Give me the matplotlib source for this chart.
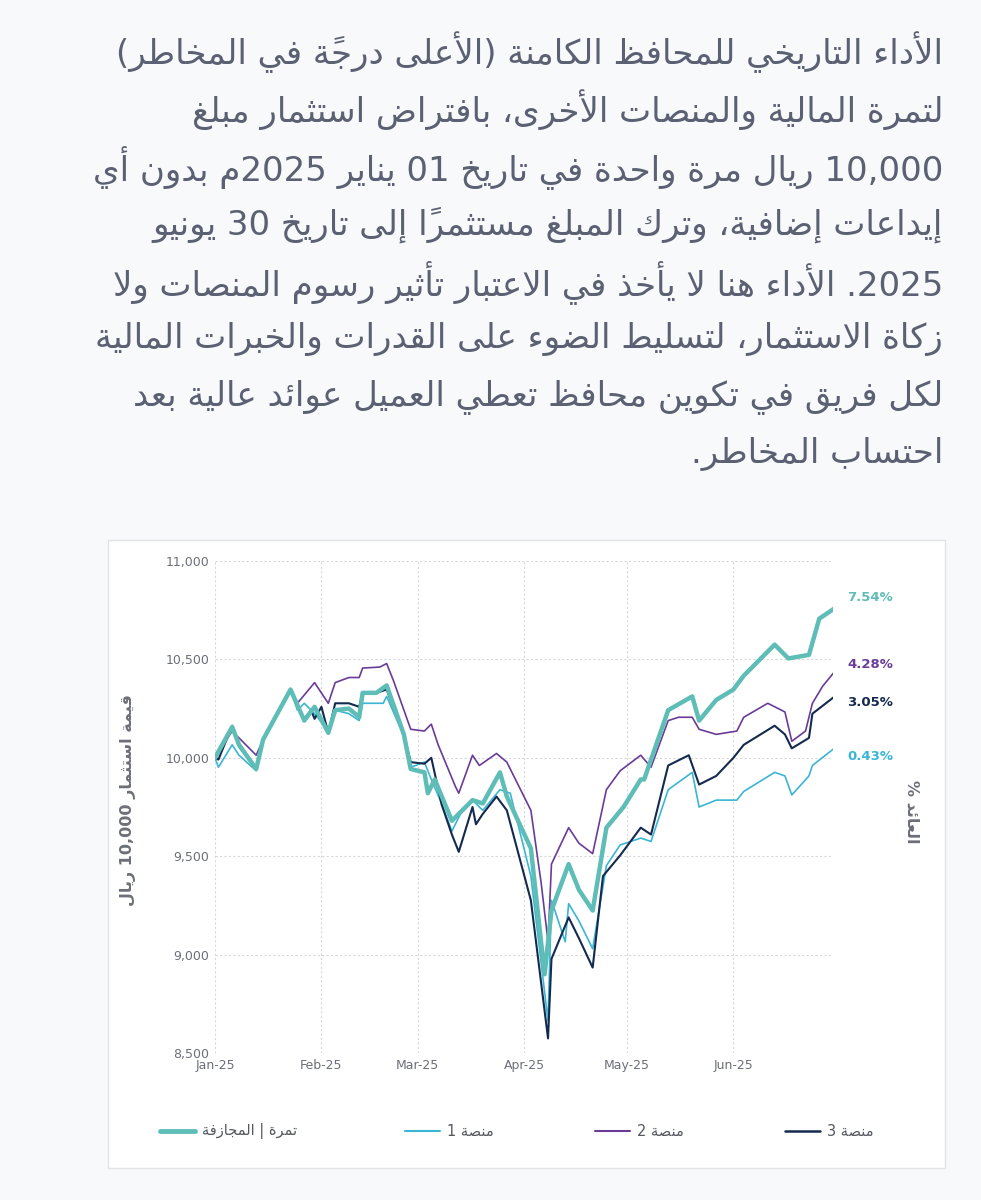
import re
import numpy as np
import matplotlib
matplotlib.use("Agg")
import matplotlib.pyplot as plt
import matplotlib.dates as mdates
from matplotlib.patches import Rectangle
from matplotlib.lines import Line2D

# ==========================================
# Data (day offsets from 2025-01-01)
# ==========================================
tamra_days = [0, 5, 7, 12, 14, 22, 26, 29, 33, 35, 39, 42, 43, 47, 50, 55, 57, 61, 62, 64, 69, 71, 75, 78, 83,
              85, 92, 96, 98, 103, 106, 110, 114, 119, 124, 125, 132, 139, 141, 146, 151, 154, 163, 167, 173, 176, 180]
tamra_vals = [10000, 10157, 10066, 9943, 10092, 10347, 10189, 10259, 10127, 10242, 10250, 10207, 10330, 10330, 10368,
              10119, 9943, 9926, 9820, 9890, 9680, 9715, 9785, 9768, 9926, 9803, 9540, 8900, 9224, 9460,
              9329, 9224, 9645, 9750, 9890, 9890, 10242, 10312, 10189, 10294, 10347, 10417, 10575, 10505, 10523,
              10707, 10754]

p1_days = [0, 1, 5, 7, 12, 14, 22, 24, 26, 29, 33, 35, 39, 42, 43, 49, 50, 55, 57, 61, 63, 66, 69, 72, 75,
           78, 83, 86, 92, 97, 98, 102, 103, 106, 110, 114, 118, 124, 127, 132, 139, 141, 146, 152, 154,
           163, 166, 168, 173, 174, 180]
p1_vals = [10000, 9952, 10066, 10013, 9934, 10092, 10347, 10242, 10277, 10224, 10136, 10242, 10224, 10189, 10277,
           10277, 10312, 10110, 9952, 9978, 9890, 9768, 9627, 9733, 9785, 9733, 9838, 9820, 9399, 8662,
           9276, 9065, 9259, 9171, 9030, 9452, 9557, 9592, 9575, 9838, 9926, 9750, 9785, 9785, 9829,
           9926, 9908, 9811, 9908, 9961, 10043]

p2_days = [0, 5, 12, 14, 22, 24, 29, 33, 35, 39, 42, 43, 48, 50, 52, 57, 61, 63, 65, 70, 71, 75, 77, 82, 85,
           92, 95, 97, 98, 103, 106, 110, 114, 118, 124, 127, 132, 135, 139, 141, 146, 152, 154, 161, 166,
           168, 172, 174, 177, 180]
p2_vals = [10000, 10136, 10013, 10092, 10347, 10277, 10382, 10277, 10382, 10408, 10408, 10456, 10461, 10479, 10391,
           10145, 10136, 10171, 10066, 9855, 9820, 10013, 9961, 10022, 9978, 9733, 9364, 9065, 9460, 9645,
           9566, 9513, 9838, 9934, 10013, 9952, 10189, 10206, 10206, 10145, 10119, 10136, 10206, 10277, 10233,
           10084, 10136, 10277, 10364, 10428]

p3_days = [0, 1, 5, 7, 12, 14, 22, 24, 26, 28, 29, 31, 33, 35, 39, 42, 43, 47, 50, 55, 57, 61, 63, 66, 69,
           71, 75, 76, 78, 82, 85, 92, 97, 98, 103, 106, 110, 113, 118, 124, 127, 132, 138, 141, 146,
           151, 154, 163, 166, 168, 173, 174, 180]
p3_vals = [10000, 9991, 10163, 10057, 9943, 10092, 10347, 10259, 10198, 10242, 10198, 10259, 10127, 10277, 10277,
           10259, 10330, 10330, 10347, 10119, 9978, 9970, 10000, 9763, 9610, 9522, 9750, 9662, 9715, 9803,
           9733, 9276, 8574, 8978, 9189, 9083, 8934, 9399, 9504, 9645, 9610, 9961, 10013, 9864, 9908,
           10000, 10066, 10163, 10119, 10048, 10101, 10224, 10305]

series_names = ["تمرة | المجازفة", "منصة 1", "منصة 2", "منصة 3"]
series_returns = ["7.54%", "0.43%", "4.28%", "3.05%"]
y_ticks = [8500, 9000, 9500, 10000, 10500, 11000]

paragraph = [
    "الأداء التاريخي للمحافظ الكامنة (الأعلى درجةً في المخاطر)",
    "لتمرة المالية والمنصات الأخرى، بافتراض استثمار مبلغ",
    "10,000 ريال مرة واحدة في تاريخ 01 يناير 2025م بدون أي",
    "إيداعات إضافية، وترك المبلغ مستثمراً إلى تاريخ 30 يونيو",
    "2025. الأداء هنا لا يأخذ في الاعتبار تأثير رسوم المنصات ولا",
    "زكاة الاستثمار، لتسليط الضوء على القدرات والخبرات المالية",
    "لكل فريق في تكوين محافظ تعطي العميل عوائد عالية بعد",
    "احتساب المخاطر.",
]

# ==========================================
# Minimal Arabic shaping + visual ordering
# ==========================================
def _f(iso, n):
    return tuple(chr(iso + k) for k in range(n)) + (None,) * (4 - n)

FORMS = {
    "ء": _f(0xFE80, 1), "آ": _f(0xFE81, 2), "أ": _f(0xFE83, 2), "ؤ": _f(0xFE85, 2),
    "إ": _f(0xFE87, 2), "ئ": _f(0xFE89, 4), "ا": _f(0xFE8D, 2), "ب": _f(0xFE8F, 4),
    "ة": _f(0xFE93, 2), "ت": _f(0xFE95, 4), "ث": _f(0xFE99, 4), "ج": _f(0xFE9D, 4),
    "ح": _f(0xFEA1, 4), "خ": _f(0xFEA5, 4), "د": _f(0xFEA9, 2), "ذ": _f(0xFEAB, 2),
    "ر": _f(0xFEAD, 2), "ز": _f(0xFEAF, 2), "س": _f(0xFEB1, 4), "ش": _f(0xFEB5, 4),
    "ص": _f(0xFEB9, 4), "ض": _f(0xFEBD, 4), "ط": _f(0xFEC1, 4), "ظ": _f(0xFEC5, 4),
    "ع": _f(0xFEC9, 4), "غ": _f(0xFECD, 4), "ف": _f(0xFED1, 4), "ق": _f(0xFED5, 4),
    "ك": _f(0xFED9, 4), "ل": _f(0xFEDD, 4), "م": _f(0xFEE1, 4), "ن": _f(0xFEE5, 4),
    "ه": _f(0xFEE9, 4), "و": _f(0xFEED, 2), "ى": _f(0xFEEF, 2), "ي": _f(0xFEF1, 4),
}
LAM_ALEF = {"ا": ("\uFEFB", "\uFEFC"), "أ": ("\uFEF7", "\uFEF8"),
            "إ": ("\uFEF9", "\uFEFA"), "آ": ("\uFEF5", "\uFEF6")}
MARKS = set(chr(c) for c in range(0x064B, 0x0653))


def shape(s):
    chars = list(s)
    n = len(chars)

    def nxt(i):
        j = i + 1
        while j < n and chars[j] in MARKS:
            j += 1
        return j

    out = []
    prev_joins = False
    i = 0
    while i < n:
        c = chars[i]
        if c in MARKS:
            out.append(c)
            i += 1
            continue
        if c not in FORMS:
            out.append(c)
            prev_joins = False
            i += 1
            continue
        j = nxt(i)
        nc = chars[j] if j < n else None
        if c == "ل" and nc in LAM_ALEF:
            out.append(LAM_ALEF[nc][1 if prev_joins else 0])
            out.extend(chars[i + 1:j])
            prev_joins = False
            i = j + 1
            continue
        f = FORMS[c]
        can_next = f[2] is not None and nc in FORMS
        if prev_joins and can_next:
            g = f[3]
        elif prev_joins:
            g = f[1]
        elif can_next:
            g = f[2]
        else:
            g = f[0]
        out.append(g)
        prev_joins = f[2] is not None
        i += 1
    return "".join(out)


def ar(s):
    s = shape(s)
    tokens = re.findall(r"\d[\d,]*\d|\d|[A-Za-z]+|.[\u064B-\u0652]*", s)
    tokens = tokens[::-1]
    mirror = {"(": ")", ")": "("}
    return "".join(mirror.get(t, t) for t in tokens)


# ==========================================
# Figure
# ==========================================
W, H = 981, 1200
fig = plt.figure(figsize=(9.81, 12), dpi=100, facecolor="#f8f9fb")
plt.rcParams["font.family"] = "DejaVu Sans"

text_col = "#5b6173"
for k, line in enumerate(paragraph):
    fig.text(943 / W, 1 - (52 + k * 57.5) / H, ar(line), ha="right", va="center",
             fontsize=24.5, color=text_col)

fig.patches.append(Rectangle((108 / W, 1 - 1168 / H), (945 - 108) / W, (1168 - 540) / H,
                             transform=fig.transFigure, facecolor="white", edgecolor="#e3e3e6",
                             lw=1, zorder=-1))

ax = fig.add_axes([215 / W, 1 - 1053 / H, (833 - 215) / W, (1053 - 561) / H])
ax.set_zorder(2)
ax.set_facecolor("white")

start = np.datetime64("2025-01-01")
colors = ["#5ebdb6", "#3bb5d4", "#6a3c98", "#142a4e"]
widths = [3.2, 1.2, 1.2, 1.5]
all_days = [tamra_days, p1_days, p2_days, p3_days]
all_vals = [tamra_vals, p1_vals, p2_vals, p3_vals]
order = [1, 2, 3, 0]
for i in order:
    d = start + np.array(all_days[i], dtype="timedelta64[D]")
    ax.plot(d.astype(object), all_vals[i], color=colors[i],
            lw=widths[i], zorder=3 + (i == 0))

ax.set_xlim(np.datetime64("2025-01-01").astype(object), np.datetime64("2025-06-30").astype(object))
ax.set_ylim(8500, 11000)
ax.set_yticks(y_ticks)
ax.set_yticklabels([f"{v:,}" for v in y_ticks])
ax.xaxis.set_major_locator(mdates.MonthLocator())
ax.xaxis.set_major_formatter(mdates.DateFormatter("%b-%y"))
ax.grid(True, color="#d8d8dc", ls=(0, (2, 2)), lw=0.8)
for sp in ax.spines.values():
    sp.set_visible(False)
ax.tick_params(length=0, labelsize=9, colors="#6c6f78", pad=4)

# return labels on the right
label_y = {0: 597, 2: 664, 3: 702, 1: 757}
for i, yy in label_y.items():
    fig.text(870 / W, 1 - yy / H, series_returns[i], ha="center", va="center",
             fontsize=9.5, fontweight="bold", color=colors[i])

fig.text(128 / W, 1 - 800 / H, ar("قيمة استثمار 10,000 ريال"), rotation=90,
         ha="center", va="center", fontsize=11.5, color="#6c6f78", fontweight="bold")
fig.text(912 / W, 1 - 812 / H, ar("العائد %"), rotation=270,
         ha="center", va="center", fontsize=11.5, color="#6c6f78", fontweight="bold")

# legend
leg_x = [160, 405, 595, 785]
for i in range(4):
    x0 = leg_x[i]
    fig.lines.append(Line2D([x0 / W, (x0 + 35) / W], [1 - 1131 / H] * 2, transform=fig.transFigure,
                            color=colors[i], lw=widths[i] + 0.3, solid_capstyle="round"))
    fig.text((x0 + 42) / W, 1 - 1131 / H, ar(series_names[i]), ha="left", va="center",
             fontsize=10.5, color="#55585f")

fig.savefig("out.png", dpi=100, facecolor=fig.get_facecolor())
